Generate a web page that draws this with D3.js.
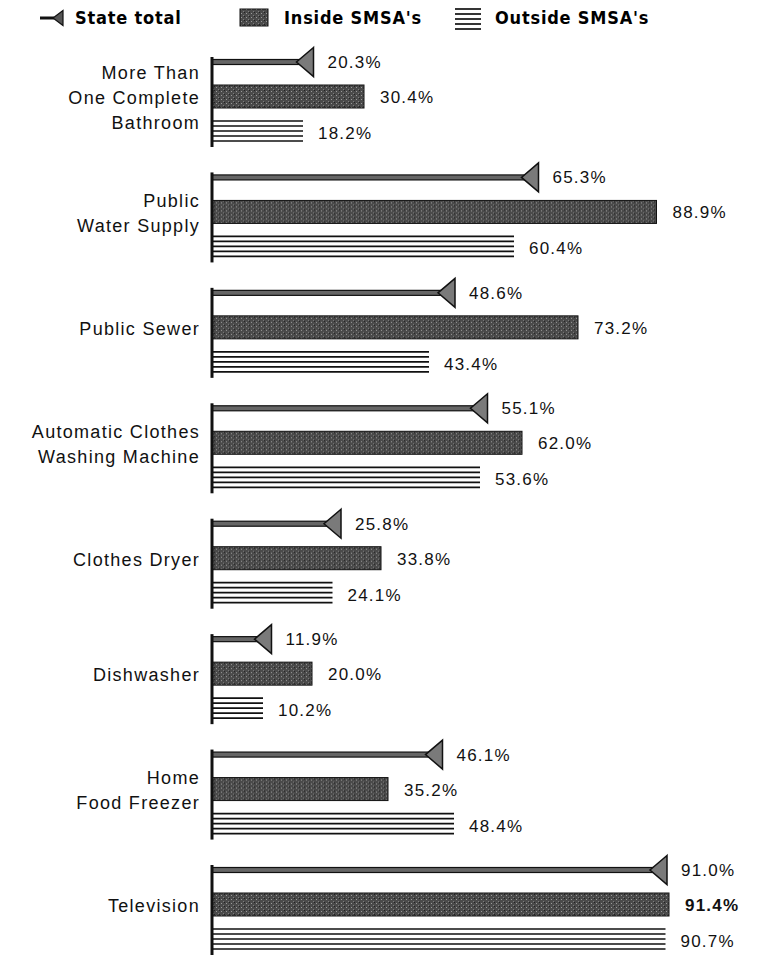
<!DOCTYPE html>
<html>
<head>
<meta charset="utf-8">
<script src="https://cdn.jsdelivr.net/npm/d3@7"></script>
<style>
  body { margin: 0; background: #fff; }
  svg { display: block; }
</style>
</head>
<body>
<div id="rootDiv"></div>
<script>
// data
const categories = [
    "More Than|One Complete|Bathroom",
    "Public|Water Supply",
    "Public Sewer",
    "Automatic Clothes|Washing Machine",
    "Clothes Dryer",
    "Dishwasher",
    "Home|Food Freezer",
    "Television"
]
const stateTotal = [20.3, 65.3, 48.6, 55.1, 25.8, 11.9, 46.1, 91.0]
const insideSMSA = [30.4, 88.9, 73.2, 62.0, 33.8, 20.0, 35.2, 91.4]
const outsideSMSA = [18.2, 60.4, 43.4, 53.6, 24.1, 10.2, 48.4, 90.7]
const legendLabels = ["State total", "Inside SMSA's", "Outside SMSA's"]

const W = 775, H = 957
const labelFont = "'Liberation Sans', Arial, sans-serif"
const legendFont = "'DejaVu Sans Condensed', 'DejaVu Sans', sans-serif"

const x = d3.scaleLinear().domain([0, 100]).range([212, 712])
const gy = d3.scalePoint().domain(d3.range(categories.length)).range([62, 870])

const svg = d3.select("#rootDiv").append("svg")
    .attr("width", W)
    .attr("height", H)

// textures
const defs = svg.append("defs")
const speck = defs.append("pattern")
    .attr("id", "speck")
    .attr("patternUnits", "userSpaceOnUse")
    .attr("width", 5).attr("height", 4)
speck.append("rect").attr("width", 5).attr("height", 4).attr("fill", "#4a4a4a")
speck.append("rect").attr("x", 1).attr("y", 1).attr("width", 1).attr("height", 1).attr("fill", "#9a9a9a")
speck.append("rect").attr("x", 3).attr("y", 3).attr("width", 1).attr("height", 1).attr("fill", "#7d7d7d")
speck.append("rect").attr("x", 4).attr("y", 0).attr("width", 1).attr("height", 1).attr("fill", "#222")

const hatchOffsets = [0, 5, 10, 15, 20]

function drawHatch(g, x0, x1, top) {
    g.selectAll(null)
        .data(hatchOffsets)
        .enter()
        .append("line")
        .attr("x1", x0).attr("x2", x1)
        .attr("y1", d => top + d).attr("y2", d => top + d)
        .attr("stroke", "#111")
        .attr("stroke-width", 1.7)
}

function arrowPath(xv, yc, w, h) {
    return `M${xv},${yc - h / 2} L${xv - w},${yc} L${xv},${yc + h / 2} Z`
}

// legend
const legend = svg.append("g")
    .attr("font-family", legendFont)
    .attr("font-weight", "bold")
    .attr("font-size", 18)
    .attr("letter-spacing", 0.8)
legend.append("line").attr("x1", 40).attr("x2", 54).attr("y1", 18).attr("y2", 18)
    .attr("stroke", "#111").attr("stroke-width", 3)
legend.append("path").attr("d", arrowPath(63, 18, 10, 15)).attr("fill", "#555").attr("stroke", "#111").attr("stroke-width", 1.2)
legend.append("text").attr("x", 75).attr("y", 24).text(legendLabels[0])
legend.append("rect").attr("x", 240).attr("y", 9).attr("width", 28).attr("height", 17)
    .attr("fill", "url(#speck)").attr("stroke", "#111").attr("stroke-width", 1)
legend.append("text").attr("x", 284).attr("y", 24).text(legendLabels[1])
drawHatch(legend, 455, 481, 9)
legend.append("text").attr("x", 495).attr("y", 24).text(legendLabels[2])

// groups
const groups = svg.selectAll("g.group")
    .data(categories.map((c, i) => ({ c, i })))
    .enter()
    .append("g")
    .attr("class", "group")
    .attr("transform", d => `translate(0,${gy(d.i)})`)

groups.each(function (d) {
    const g = d3.select(this)
    const i = d.i

    // category label
    const lines = d.c.split("|")
    const lh = 25
    const cy = 36
    g.append("text")
        .attr("font-family", labelFont)
        .attr("font-size", 18)
        .attr("letter-spacing", 1.3)
        .attr("text-anchor", "end")
        .attr("fill", "#111")
        .selectAll("tspan")
        .data(lines)
        .enter()
        .append("tspan")
        .attr("x", 200)
        .attr("y", (l, k) => cy + (k - (lines.length - 1) / 2) * lh + 6)
        .text(l => l)

    // inside bar
    g.append("rect")
        .attr("x", x(0))
        .attr("y", 23)
        .attr("width", x(insideSMSA[i]) - x(0))
        .attr("height", 23)
        .attr("fill", "url(#speck)")
        .attr("stroke", "#111")
        .attr("stroke-width", 1)

    // outside bar
    drawHatch(g, x(0), x(outsideSMSA[i]), 59)

    // state total line and arrow
    const sx = x(stateTotal[i])
    g.append("rect")
        .attr("x", x(0))
        .attr("y", -2.5)
        .attr("width", sx - 14 - x(0))
        .attr("height", 5)
        .attr("fill", "#666")
        .attr("stroke", "#111")
        .attr("stroke-width", 1.2)
    g.append("path")
        .attr("d", arrowPath(sx, 0, 17, 29))
        .attr("fill", "#7a7a7a")
        .attr("stroke", "#111")
        .attr("stroke-width", 1.5)

    // axis stub
    g.append("line")
        .attr("x1", x(0)).attr("x2", x(0))
        .attr("y1", -5).attr("y2", 85)
        .attr("stroke", "#111")
        .attr("stroke-width", 3)

    // value labels
    const vl = g.append("g")
        .attr("font-family", labelFont)
        .attr("font-size", 17)
        .attr("letter-spacing", 1.2)
        .attr("fill", "#111")
    vl.append("text").attr("x", sx + 14).attr("y", 6).text(d3.format(".1f")(stateTotal[i]) + "%")
    vl.append("text").attr("x", x(insideSMSA[i]) + 16).attr("y", 41)
        .attr("font-weight", i === categories.length - 1 ? "bold" : null)
        .text(d3.format(".1f")(insideSMSA[i]) + "%")
    vl.append("text").attr("x", x(outsideSMSA[i]) + 15).attr("y", 77).text(d3.format(".1f")(outsideSMSA[i]) + "%")
})
</script>
</body>
</html>
